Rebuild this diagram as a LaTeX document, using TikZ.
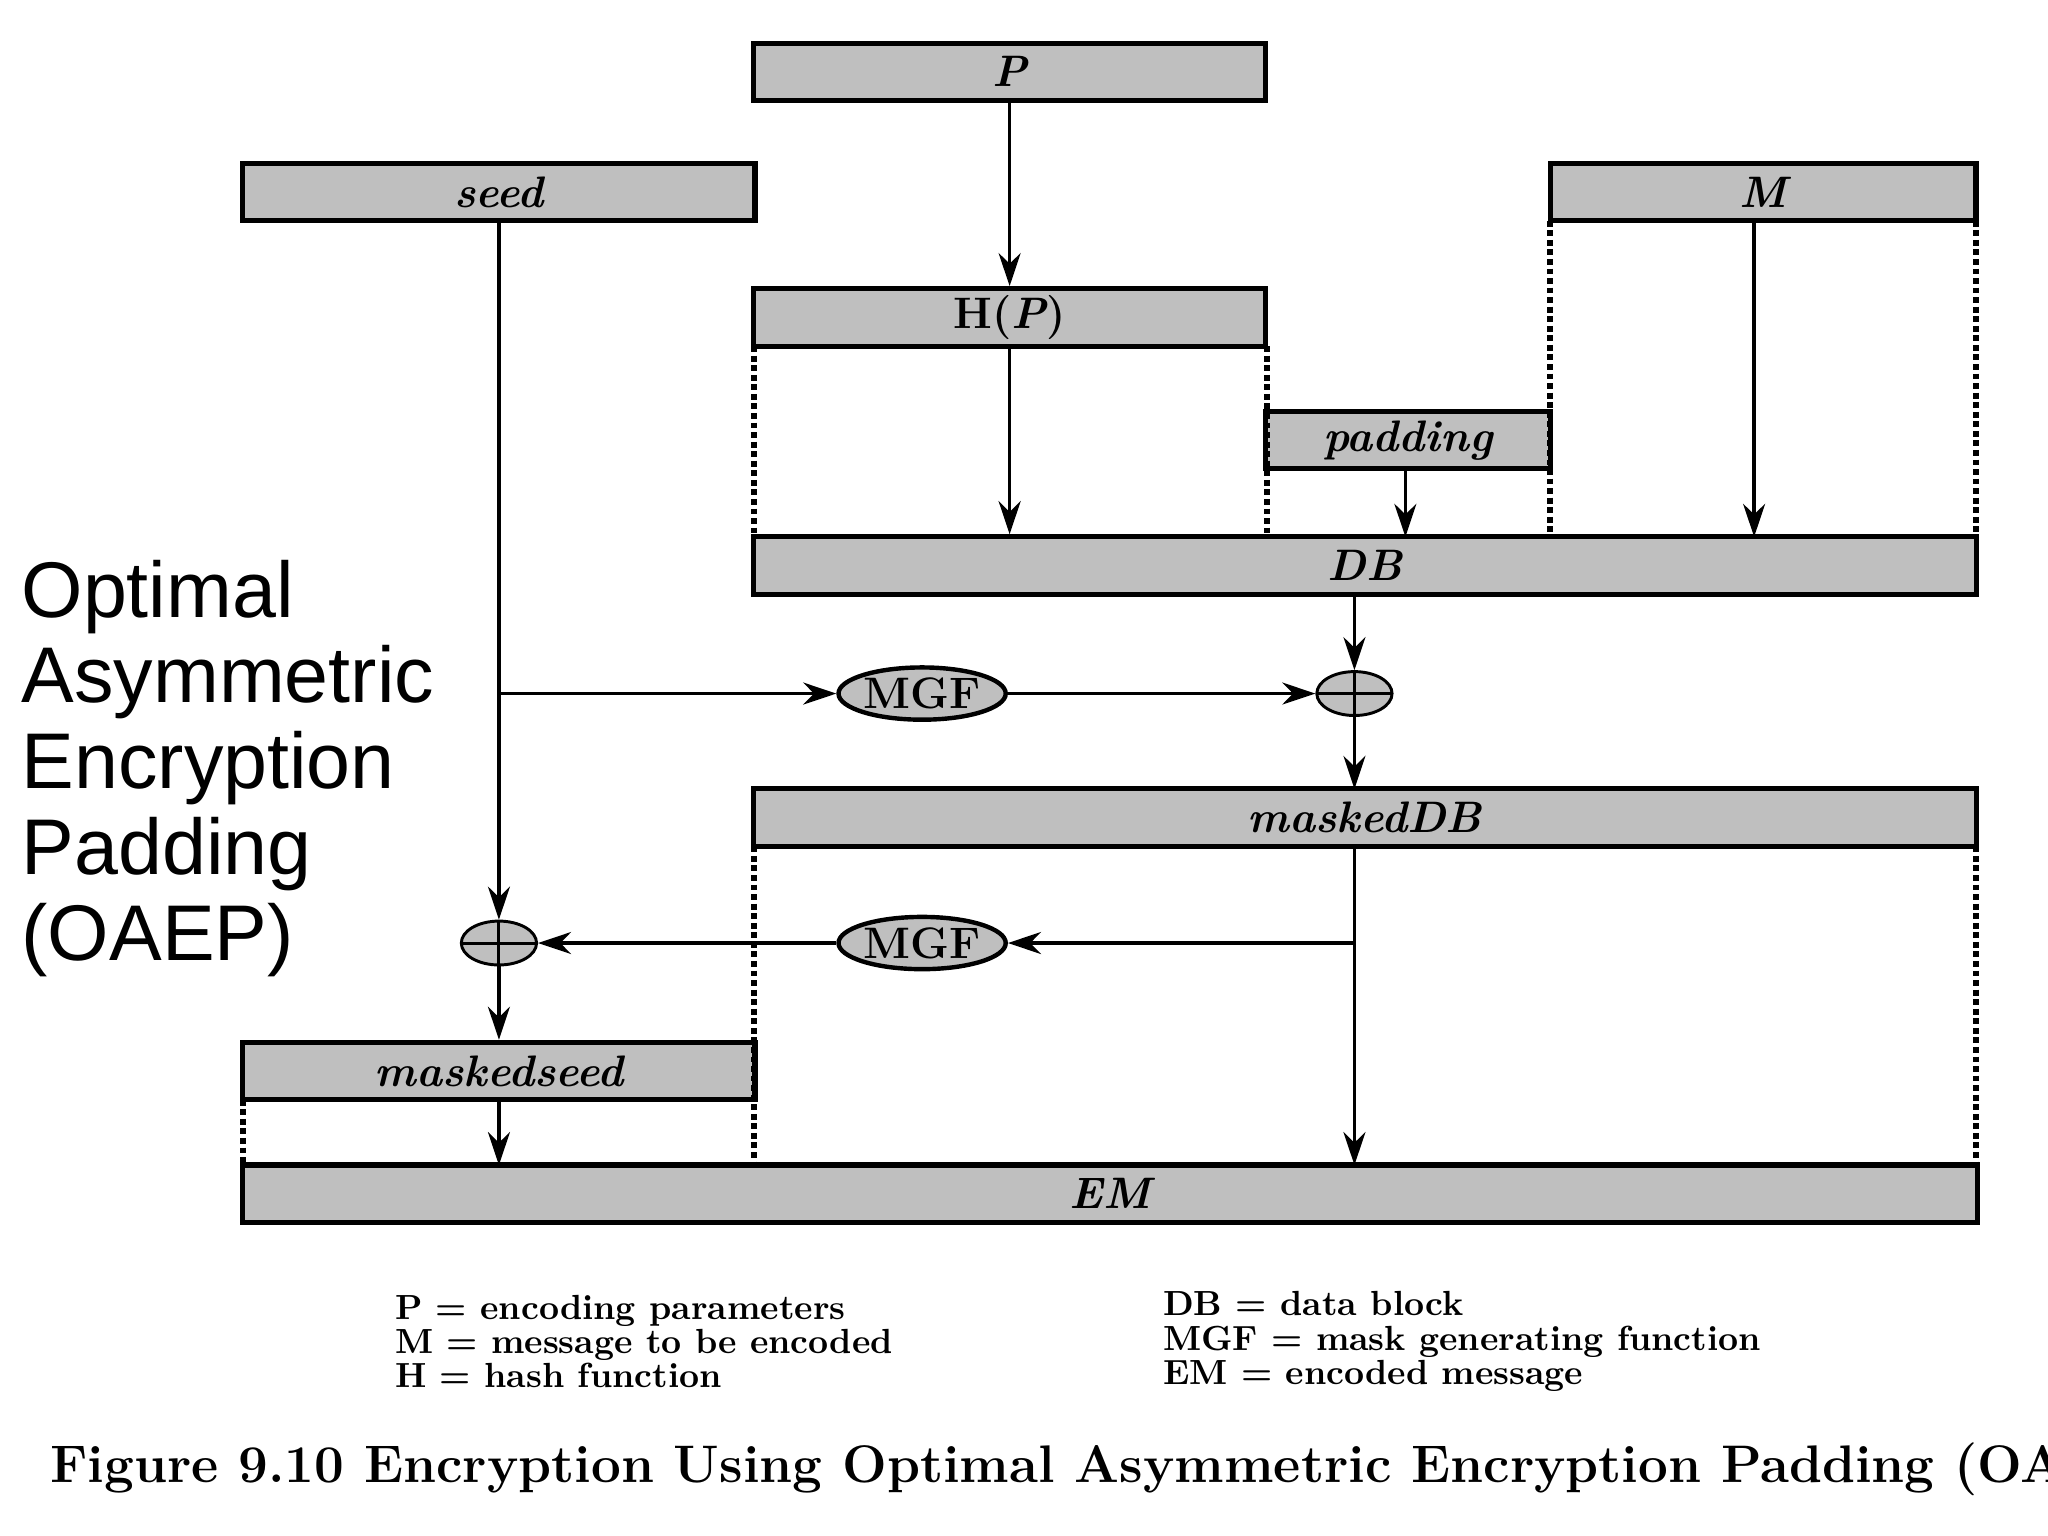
\documentclass[tikz,border=0pt]{standalone}
\usepackage{fontspec}
\newfontfamily\sans{Liberation Sans}
\usetikzlibrary{arrows.meta,shapes.geometric}
\begin{document}
\begin{tikzpicture}[x=0.0125cm,y=-0.0125cm,
  box/.style={draw,fill=black!25,line width=1.4pt,inner sep=0,font=\bfseries\itshape\large},
  oval/.style={ellipse,draw,fill=black!25,line width=1.2pt,minimum width=1.6cm,minimum height=0.5cm,inner sep=0,font=\bfseries\large},
  xor/.style={ellipse,draw,fill=black!25,line width=0.8pt,minimum width=0.72cm,minimum height=0.42cm,inner sep=0,
     path picture={\draw[line width=0.8pt] (path picture bounding box.north)--(path picture bounding box.south) (path picture bounding box.west)--(path picture bounding box.east);}},
  arr/.style={-{Stealth[length=9pt,width=6pt]},line width=0.9pt},
  dot/.style={densely dotted,line width=1.6pt},
  legend/.style={font=\bfseries\fontsize{9.5}{9.3}\selectfont,anchor=west,align=left,inner sep=0}]
\useasboundingbox[clip] (0,0) rectangle (1568,1176);
\fill[white] (0,0) rectangle (1568,1176);
\node[box,minimum width=4.9cm,minimum height=0.55cm] (P) at (773,55) {P};
\node[box,minimum width=4.9cm,minimum height=0.55cm] (seed) at (382,147) {seed};
\node[box,minimum width=4.07cm,minimum height=0.55cm] (M) at (1350,147) {M};
\node[box,minimum width=4.9cm,minimum height=0.55cm] (H) at (773,243) {\upshape H(\itshape P\upshape)};
\node[box,minimum width=2.72cm,minimum height=0.55cm] (pad) at (1078,337) {padding};
\node[box,minimum width=11.7cm,minimum height=0.55cm] (DB) at (1045,433) {DB};
\node[box,minimum width=11.7cm,minimum height=0.55cm] (mDB) at (1045,626) {maskedDB};
\node[box,minimum width=4.9cm,minimum height=0.55cm] (mseed) at (382,820) {maskedseed};
\node[box,minimum width=16.6cm,minimum height=0.55cm] (EM) at (850,914) {EM};
\node[oval] (mgf1) at (706,531) {MGF};
\node[oval] (mgf2) at (706,722) {MGF};
\node[xor] (x1) at (1037,531) {};
\node[xor] (x2) at (382,722) {};
\coordinate (b1) at (382,531);
\coordinate (b2) at (1037,722);
% dotted
\draw[dot] (577,265)--(577,411) (970,265)--(970,411) (1187,169)--(1187,411) (1513,169)--(1513,411)
  (577,648)--(577,892) (1513,648)--(1513,892) (186,842)--(186,892);
% arrows
\draw[arr] (P.south) -- (H.north);
\draw[arr] (H.south) -- (H.south|-DB.north);
\draw[arr] (pad.south-|1076,0) -- (1076,411);
\draw[arr] (M.south-|1343,0) -- (1343,411);
\draw[arr] (seed.south) -- (x2.north);
\draw[arr] (b1) -- (mgf1.west);
\draw[arr] (mgf1.east) -- (x1.west);
\draw[arr] (1037,455) -- (x1.north);
\draw[arr] (x1.south) -- (1037,604);
\draw[arr] (1037,648) -- (1037,892);
\draw[arr] (b2) -- (mgf2.east);
\draw[arr] (mgf2.west) -- (x2.east);
\draw[arr] (x2.south) -- (mseed.north);
\draw[arr] (mseed.south) -- (382,892);
% left title
\node[font=\sans\fontsize{21.5}{23.4}\selectfont,align=left,anchor=north west,inner sep=0] (t) at (16,428) {Optimal\\Asymmetric\\Encryption\\Padding\\(OAEP)};
\node[legend] (l1) at (302,1027) {P = encoding parameters\\M = message to be encoded\\H = hash function};
\node[legend] (l2) at (890,1027) {DB = data block\\MGF = mask generating function\\EM = encoded message};
\node[font=\bfseries\Large,anchor=west,inner sep=0] (cap) at (38,1125) {Figure 9.10 Encryption Using Optimal Asymmetric Encryption Padding (OAEP)};
\end{tikzpicture}
\end{document}
